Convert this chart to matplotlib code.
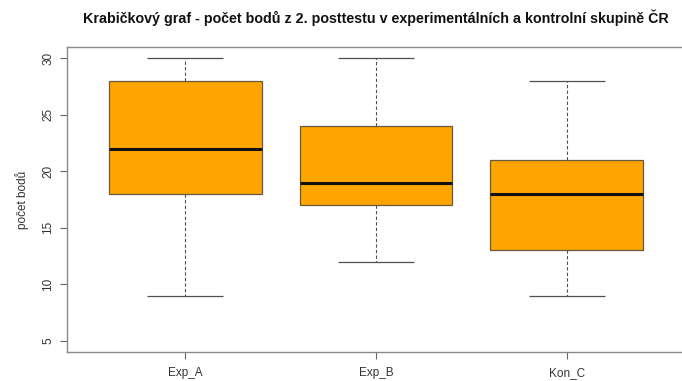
import matplotlib
matplotlib.use("Agg")
import matplotlib.pyplot as plt

plt.rcParams['font.family'] = ['Liberation Sans', 'DejaVu Sans']

categories = ["Exp_A", "Exp_B", "Kon_C"]
whislo = [9, 12, 9]
q1 = [18, 17, 13]
med = [22, 19, 18]
q3 = [28, 24, 21]
whishi = [30, 30, 28]
yticks = [5, 10, 15, 20, 25, 30]

stats = [dict(label=c, whislo=a, q1=b, med=m, q3=d, whishi=e, fliers=[])
         for c, a, b, m, d, e in zip(categories, whislo, q1, med, q3, whishi)]

fig = plt.figure(figsize=(6.82, 3.81), dpi=100)
ax = fig.add_axes([67/682, 1-352/381, (685-67)/682, (352-47)/381])

line_c = '#505050'
ax.bxp(stats, positions=[1, 2, 3], widths=0.8, patch_artist=True, showfliers=False,
       boxprops=dict(facecolor='#FFA500', edgecolor='#6b5a3a', linewidth=0.9),
       medianprops=dict(color='#111111', linewidth=2.2),
       whiskerprops=dict(color=line_c, linewidth=0.8, linestyle=(0, (3, 2))),
       capprops=dict(color=line_c, linewidth=0.9, solid_capstyle='butt'),
       capwidths=0.4)

ax.set_xlim(0.38, 3.62)
ax.set_ylim(4, 31)
ax.set_yticks(yticks)
ax.set_yticklabels([str(v) for v in yticks], rotation=90, va='center', fontsize=8.5, color='#333333')
ax.set_xticks([1, 2, 3])
ax.set_xticklabels(categories, fontsize=8.5, color='#333333')
for s in ax.spines.values():
    s.set_color('#8a8a8a')
    s.set_linewidth(1.0)
ax.tick_params(axis='both', color='#666666', length=5, width=0.8)
ax.tick_params(axis='y', pad=4)
ax.tick_params(axis='x', pad=5.5)
ax.set_ylabel("počet bodů", fontsize=8.5, color='#333333', labelpad=10)
ax.set_title("Krabičkový graf - počet bodů z 2. posttestu v experimentálních a kontrolní skupině ČR",
             fontsize=10.3, fontweight='bold', color='#111111', pad=17)

fig.savefig("out.png", dpi=100)
